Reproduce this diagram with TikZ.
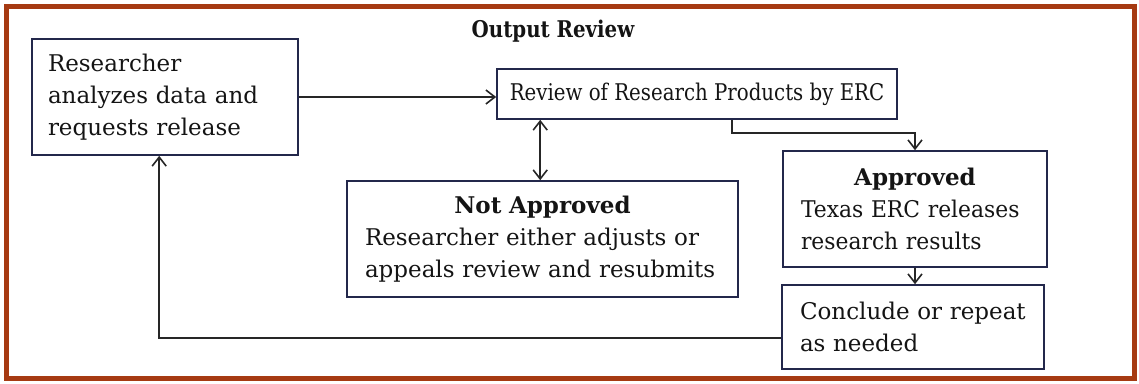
\documentclass[tikz,border=0pt]{standalone}
\usepackage{fontspec}
\setmainfont{DejaVu Serif}
\newfontfamily\narrowfont[FakeStretch=0.86]{DejaVu Serif}
\newfontfamily\appfont[FakeStretch=0.95]{DejaVu Serif}
\usetikzlibrary{arrows.meta,calc}
\definecolor{frame}{RGB}{166,58,18}
\definecolor{boxline}{RGB}{35,40,75}
\definecolor{txt}{RGB}{20,20,20}
\begin{document}
\begin{tikzpicture}[x=1pt,y=-1pt,
  box/.style={draw=boxline,line width=1.6pt,inner sep=0pt,anchor=center,
    font=\fontsize{23}{32}\selectfont,text=txt},
  conn/.style={draw=black!85,line width=1.8pt,
    -{Straight Barb[length=9pt,width=14pt,line width=1.6pt]}},
  conn2/.style={draw=black!85,line width=1.8pt,
    {Straight Barb[length=9pt,width=14pt,line width=1.6pt]}-{Straight Barb[length=9pt,width=14pt,line width=1.6pt]}},
]
\useasboundingbox (0,0) rectangle (1139,383);
\draw[frame,line width=5pt] (6,6) rectangle (1134,378);

\node[font=\fontsize{23}{28}\narrowfont\bfseries,text=txt] (title) at (553,31) {Output Review};

\node[box,minimum width=266pt,minimum height=116pt,text width=234pt,align=left]
  (res) at (165,97) {Researcher\\analyzes data and\\requests release};
\node[box,minimum width=400pt,minimum height=50pt,align=center,
  font=\fontsize{23}{32}\narrowfont]
  (rev) at (697,94) {Review of Research Products by ERC};
\node[box,minimum width=391pt,minimum height=116pt,text width=355pt,align=left]
  (na) at (542.5,239) {\makebox[\linewidth]{\bfseries Not Approved}\\Researcher either adjusts or\\appeals review and resubmits};
\node[box,minimum width=264pt,minimum height=116pt,text width=228pt,align=left]
  (app) at (915,209) {\makebox[\linewidth]{\bfseries Approved}\\{\appfont Texas ERC releases}\\{\appfont research results}};
\node[box,minimum width=262pt,minimum height=84pt,text width=226pt,align=left]
  (con) at (913,327) {Conclude or repeat\\as needed};

\coordinate (revB) at ($(rev.south west)+(236,0)$);
\coordinate (revD) at ($(rev.south west)+(44,0)$);
\coordinate (conW) at ($(con.south west)+(0,-32)$);
\coordinate (resB) at ($(res.south west)+(128,0)$);

\draw[conn] (res.east) -- (res.east -| rev.west);
\draw[conn2] (revD) -- (revD |- na.north);
\draw[conn] (revB) |- ($(app.north)+(0,-17)$) -- (app.north);
\draw[conn] (app.south) -- (app.south |- con.north);
\draw[conn] (conW) -| (resB);
\end{tikzpicture}
\end{document}
